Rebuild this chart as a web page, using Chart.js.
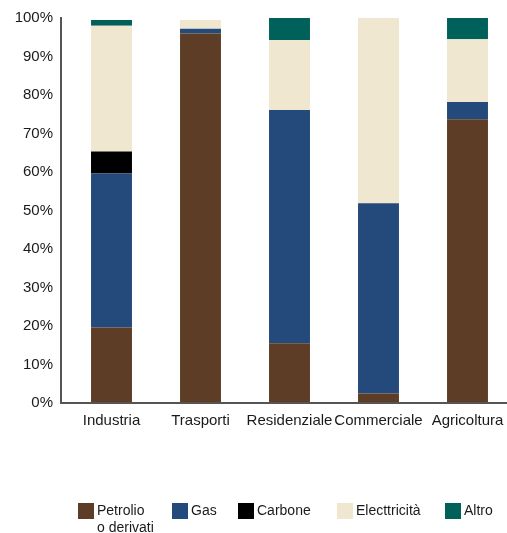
<!DOCTYPE html>
<html>
<head>
<meta charset="utf-8">
<script src="https://cdn.jsdelivr.net/npm/chart.js@4"></script>
<style>
    html, body { margin: 0; padding: 0; background: #fff; overflow: hidden; }
    #wrap { width: 507px; height: 533px; overflow: hidden; }
</style>
</head>
<body>
<div id="wrap"><canvas id="quoteChart" width="515" height="533"></canvas></div>
<script>
const settori = ['Industria', 'Trasporti', 'Residenziale', 'Commerciale', 'Agricoltura'];
const petrolio = [19.6, 96.0, 15.5, 2.5, 73.7];
const gas = [40.0, 1.2, 60.6, 49.4, 4.5];
const carbone = [5.7, 0, 0, 0, 0];
const elettricita = [32.7, 2.3, 18.2, 48.1, 16.3];
const altro = [1.5, 0, 5.7, 0, 5.5];
const tickPercent = [0, 10, 20, 30, 40, 50, 60, 70, 80, 90, 100];

const FONT = "'Liberation Sans', Arial, sans-serif";
const legendX = [78, 172, 238, 337, 445];

// legend drawn under the chart, first label wraps on two lines
const legendaPlugin = {
    id: 'legenda',
    afterDraw(chart) {
        const ctx = chart.ctx;
        ctx.save();
        ctx.font = '14px ' + FONT;
        ctx.textBaseline = 'middle';
        ctx.textAlign = 'left';
        chart.data.datasets.forEach((ds, i) => {
            const x = legendX[i];
            ctx.fillStyle = ds.backgroundColor;
            ctx.fillRect(x, 503, 16, 16);
            ctx.fillStyle = '#1a1a1a';
            const lines = Array.isArray(ds.legendText) ? ds.legendText : [ds.label];
            lines.forEach((t, j) => ctx.fillText(t, x + 19, 511 + j * 17));
        });
        ctx.restore();
    }
};

// axis lines sit a few pixels left of the first bar slot
const assiPlugin = {
    id: 'assi',
    afterDatasetsDraw(chart) {
        const { ctx, chartArea } = chart;
        const x0 = chartArea.left - 6;
        ctx.save();
        ctx.strokeStyle = '#555';
        ctx.lineWidth = 2;
        ctx.beginPath();
        ctx.moveTo(x0, chartArea.top - 1);
        ctx.lineTo(x0, chartArea.bottom);
        ctx.lineTo(chartArea.right + 10, chartArea.bottom);
        ctx.stroke();
        ctx.restore();
    }
};

function serie(label, data, color, legendText) {
    return { label, data, backgroundColor: color, borderWidth: 0, legendText,
             barPercentage: 0.46, categoryPercentage: 1 };
}

new Chart(document.getElementById('quoteChart').getContext('2d'), {
    type: 'bar',
    data: {
        labels: settori,
        datasets: [
            serie('Petrolio o derivati', petrolio, '#5e3d26', ['Petrolio', 'o derivati']),
            serie('Gas', gas, '#234a7b'),
            serie('Carbone', carbone, '#000000'),
            serie('Electtricità', elettricita, '#efe7d0'),
            serie('Altro', altro, '#00615b')
        ]
    },
    options: {
        responsive: false,
        animation: false,
        devicePixelRatio: 1,
        layout: { padding: { top: 18, right: 3, left: 0, bottom: 0 } },
        plugins: { legend: { display: false }, tooltip: { enabled: false } },
        scales: {
            x: {
                stacked: true,
                grid: { display: false, drawTicks: false },
                border: { display: false },
                ticks: { color: '#1a1a1a', font: { family: FONT, size: 15 }, padding: 9, maxRotation: 0, autoSkip: false },
                afterFit: s => { s.height = 130; }
            },
            y: {
                stacked: true,
                min: 0,
                max: 100,
                // tick marks hidden, their length only spaces the labels from the axis
                grid: { display: false, drawTicks: true, tickLength: 8 },
                border: { display: false },
                afterBuildTicks: s => { s.ticks = tickPercent.map(v => ({ value: v })); },
                ticks: {
                    color: '#1a1a1a',
                    font: { family: FONT, size: 15 },
                    padding: 6,
                    callback: v => v + '%'
                },
                afterFit: s => { s.width = 67; }
            }
        }
    },
    plugins: [legendaPlugin, assiPlugin]
});
</script>
</body>
</html>
